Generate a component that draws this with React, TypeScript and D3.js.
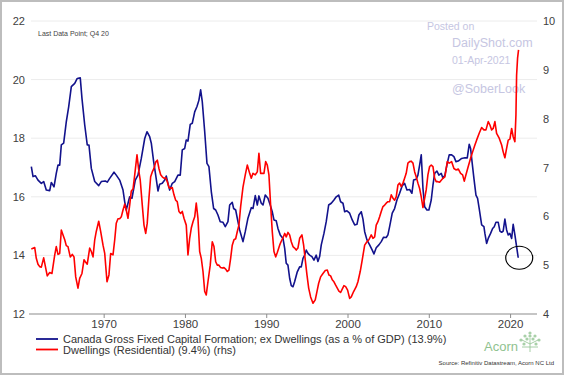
import React from "react";
import * as d3 from "d3";

// ---- Data ----
const capexSeries: [number, number][] = [
  [1961.04, 17.03], [1961.25, 16.69], [1961.53, 16.72], [1961.86, 16.57], [1962.27, 16.46], [1962.56, 16.52],
  [1962.88, 16.23], [1963.3, 16.21], [1963.5, 16.49], [1963.83, 16.34], [1964.11, 16.8], [1964.32, 17.08],
  [1964.53, 17.08], [1964.73, 17.77], [1965.02, 17.83], [1965.34, 18.56], [1965.64, 19.08], [1965.96, 19.76],
  [1966.38, 19.87], [1966.69, 20.04], [1967.06, 20.06], [1967.27, 19.36], [1967.61, 18.45], [1967.92, 17.77],
  [1968.13, 17.77], [1968.42, 16.97], [1968.84, 16.52], [1969.33, 16.38], [1969.65, 16.52], [1970.14, 16.54],
  [1970.39, 16.5], [1970.68, 16.63], [1971.21, 16.84], [1971.49, 16.74], [1971.91, 16.57], [1972.32, 16.23],
  [1972.53, 15.83], [1972.72, 15.55], [1973.14, 16.0], [1973.42, 15.95], [1973.83, 16.57], [1974.16, 16.74],
  [1974.57, 17.31], [1974.99, 17.99], [1975.27, 18.22], [1975.6, 18.05], [1975.8, 17.83], [1976.09, 17.2],
  [1976.34, 16.74], [1976.62, 16.2], [1976.83, 16.43], [1977.15, 16.46], [1977.45, 16.57], [1977.64, 16.71],
  [1977.85, 16.46], [1978.06, 16.23], [1978.38, 16.46], [1978.68, 16.52], [1979.08, 16.74], [1979.36, 16.74],
  [1979.61, 17.6], [1979.91, 17.65], [1980.1, 17.94], [1980.31, 17.9], [1980.59, 18.47], [1980.84, 18.51],
  [1981.14, 18.9], [1981.42, 19.08], [1981.66, 19.3], [1981.87, 19.65], [1982.07, 19.25], [1982.37, 18.22],
  [1982.65, 17.14], [1982.89, 17.03], [1983.18, 16.18], [1983.47, 15.6], [1983.72, 15.55], [1984.0, 15.38],
  [1984.28, 15.15], [1984.62, 15.13], [1984.9, 14.98], [1985.23, 15.15], [1985.44, 15.72], [1985.76, 15.81],
  [1985.93, 15.6], [1986.18, 15.55], [1986.46, 15.15], [1986.67, 14.87], [1987.08, 14.47], [1987.36, 14.81],
  [1987.69, 15.27], [1988.1, 15.63], [1988.31, 15.6], [1988.59, 16.04], [1988.84, 15.72], [1989.04, 16.03],
  [1989.33, 15.78], [1989.54, 15.72], [1989.82, 16.06], [1990.15, 15.95], [1990.43, 15.72], [1990.68, 15.49],
  [1990.89, 15.21], [1991.17, 15.18], [1991.38, 14.92], [1991.66, 14.7], [1992.0, 14.58], [1992.21, 14.24],
  [1992.4, 13.73], [1992.61, 13.67], [1992.82, 13.22], [1993.02, 12.97], [1993.23, 12.93], [1993.43, 13.1],
  [1993.76, 13.44], [1994.05, 13.61], [1994.25, 13.61], [1994.46, 13.9], [1994.67, 14.01], [1994.86, 14.18],
  [1995.07, 14.07], [1995.28, 14.01], [1995.56, 13.96], [1995.81, 13.84], [1996.09, 14.01], [1996.3, 13.79],
  [1996.51, 13.96], [1996.71, 14.36], [1997.04, 14.75], [1997.32, 15.15], [1997.62, 15.72], [1997.94, 15.78],
  [1998.27, 15.89], [1998.55, 16.0], [1998.85, 16.06], [1999.09, 15.83], [1999.38, 15.78], [1999.59, 15.49],
  [1999.87, 15.52], [2000.2, 15.44], [2000.52, 15.21], [2000.82, 15.04], [2001.1, 15.06], [2001.34, 15.38],
  [2001.63, 15.49], [2001.84, 15.24], [2002.05, 14.81], [2002.33, 14.53], [2002.66, 14.36], [2002.98, 14.18],
  [2003.19, 14.05], [2003.47, 14.26], [2003.8, 14.36], [2004.09, 14.47], [2004.38, 14.62], [2004.7, 14.61],
  [2004.91, 14.7], [2005.12, 14.98], [2005.44, 15.44], [2005.73, 15.6], [2006.02, 15.89], [2006.35, 16.12],
  [2006.67, 16.38], [2006.96, 16.46], [2007.25, 16.23], [2007.58, 16.25], [2007.86, 16.12], [2008.07, 16.57],
  [2008.39, 16.6], [2008.6, 16.74], [2008.81, 17.08], [2009.01, 17.43], [2009.22, 16.29], [2009.43, 15.66],
  [2009.71, 15.55], [2009.95, 15.55], [2010.24, 15.89], [2010.45, 16.4], [2010.66, 16.8], [2010.94, 16.88],
  [2011.18, 16.74], [2011.47, 16.8], [2011.68, 16.63], [2011.92, 16.74], [2012.21, 17.14], [2012.45, 17.43],
  [2012.75, 17.43], [2013.03, 17.37], [2013.28, 17.2], [2013.56, 17.22], [2013.98, 17.31], [2014.38, 17.33],
  [2014.67, 17.33], [2014.91, 17.79], [2015.08, 17.65], [2015.28, 17.14], [2015.49, 16.63], [2015.74, 16.06],
  [2015.94, 15.95], [2016.14, 15.6], [2016.44, 15.04], [2016.72, 14.98], [2016.84, 14.75], [2017.05, 14.41],
  [2017.25, 14.58], [2017.54, 14.75], [2017.79, 14.92], [2017.99, 14.98], [2018.2, 15.13], [2018.48, 15.13],
  [2018.69, 14.83], [2018.9, 14.79], [2019.09, 14.83], [2019.3, 15.24], [2019.51, 14.87], [2019.71, 14.7],
  [2019.92, 14.75], [2020.13, 14.58], [2020.32, 15.06], [2020.53, 14.7], [2020.74, 14.3], [2020.94, 13.92],
];

const dwellingsSeries: [number, number][] = [
  [1961.04, 5.33], [1961.46, 5.36], [1961.65, 5.14], [1961.86, 5.02], [1962.07, 4.97], [1962.27, 4.96],
  [1962.56, 5.15], [1962.81, 4.94], [1963.0, 4.78], [1963.3, 4.85], [1963.58, 4.83], [1963.92, 5.21],
  [1964.11, 5.38], [1964.32, 5.22], [1964.53, 5.24], [1964.73, 5.72], [1964.94, 5.62], [1965.15, 5.52],
  [1965.34, 5.4], [1965.55, 5.38], [1965.83, 5.17], [1966.08, 5.22], [1966.29, 5.17], [1966.5, 4.76],
  [1966.78, 4.53], [1966.99, 4.73], [1967.27, 4.83], [1967.52, 5.11], [1967.68, 5.07], [1967.92, 5.02],
  [1968.22, 5.35], [1968.42, 5.28], [1968.63, 5.17], [1968.84, 5.52], [1969.03, 5.69], [1969.33, 5.9],
  [1969.57, 5.69], [1969.86, 5.41], [1970.07, 5.24], [1970.35, 4.66], [1970.59, 4.8], [1970.8, 5.24],
  [1971.09, 5.21], [1971.3, 5.52], [1971.49, 5.86], [1971.7, 5.95], [1971.91, 5.95], [1972.11, 5.99],
  [1972.32, 6.13], [1972.53, 6.25], [1972.72, 6.13], [1972.93, 5.96], [1973.14, 6.23], [1973.34, 6.52],
  [1973.55, 6.56], [1973.76, 6.85], [1974.04, 7.26], [1974.28, 6.91], [1974.44, 6.74], [1974.69, 6.23],
  [1974.9, 5.82], [1975.11, 5.65], [1975.3, 5.86], [1975.51, 6.37], [1975.72, 6.81], [1975.92, 6.91],
  [1976.13, 6.98], [1976.34, 7.11], [1976.54, 7.15], [1976.74, 6.98], [1976.95, 6.85], [1977.15, 6.81],
  [1977.36, 6.78], [1977.57, 6.79], [1977.77, 6.71], [1977.97, 6.59], [1978.18, 6.57], [1978.38, 6.59],
  [1978.59, 6.44], [1978.8, 6.33], [1978.99, 6.3], [1979.2, 6.1], [1979.41, 6.06], [1979.61, 6.1],
  [1979.82, 5.96], [1980.1, 5.82], [1980.31, 5.21], [1980.52, 5.55], [1980.72, 5.76], [1980.93, 5.89],
  [1981.14, 5.99], [1981.33, 6.27], [1981.54, 5.96], [1981.75, 5.28], [1981.95, 5.14], [1982.16, 4.87],
  [1982.37, 4.46], [1982.56, 4.39], [1982.77, 4.66], [1983.05, 5.0], [1983.3, 5.48], [1983.51, 5.38],
  [1983.72, 5.07], [1983.92, 5.0], [1984.12, 5.0], [1984.33, 4.95], [1984.53, 4.94], [1984.74, 4.95],
  [1984.95, 4.92], [1985.15, 4.87], [1985.35, 4.9], [1985.56, 5.14], [1985.76, 5.41], [1985.97, 5.52],
  [1986.18, 5.54], [1986.38, 5.69], [1986.58, 5.82], [1986.79, 6.2], [1987.08, 6.6], [1987.36, 6.85],
  [1987.61, 7.05], [1987.9, 6.88], [1988.1, 6.78], [1988.31, 6.88], [1988.59, 6.85], [1988.84, 6.91],
  [1989.04, 7.29], [1989.25, 6.88], [1989.45, 6.88], [1989.66, 6.88], [1989.87, 7.12], [1990.07, 7.05],
  [1990.27, 6.85], [1990.48, 6.23], [1990.68, 5.69], [1990.89, 5.28], [1991.1, 5.17], [1991.3, 5.26],
  [1991.59, 5.41], [1991.79, 5.49], [1992.0, 5.56], [1992.21, 5.65], [1992.4, 5.58], [1992.61, 5.67],
  [1992.82, 5.62], [1993.02, 5.48], [1993.23, 5.38], [1993.43, 5.35], [1993.63, 5.31], [1993.84, 5.35],
  [1994.05, 5.55], [1994.33, 5.62], [1994.54, 5.41], [1994.74, 5.11], [1994.95, 4.8], [1995.16, 4.53],
  [1995.4, 4.35], [1995.69, 4.22], [1995.97, 4.29], [1996.18, 4.46], [1996.39, 4.63], [1996.63, 4.76],
  [1996.92, 4.83], [1997.2, 4.89], [1997.45, 4.9], [1997.65, 4.8], [1997.86, 4.78], [1998.06, 4.7],
  [1998.27, 4.66], [1998.48, 4.59], [1998.68, 4.53], [1998.88, 4.47], [1999.09, 4.44], [1999.29, 4.51],
  [1999.5, 4.58], [1999.71, 4.56], [1999.95, 4.49], [2000.2, 4.32], [2000.4, 4.35], [2000.69, 4.46],
  [2001.01, 4.56], [2001.22, 4.66], [2001.5, 4.87], [2001.75, 5.11], [2002.05, 5.41], [2002.33, 5.48],
  [2002.57, 5.52], [2002.86, 5.62], [2003.07, 5.55], [2003.28, 5.58], [2003.47, 5.82], [2003.68, 5.89],
  [2003.89, 5.99], [2004.09, 6.1], [2004.3, 6.2], [2004.51, 6.23], [2004.7, 6.27], [2004.91, 6.3],
  [2005.12, 6.3], [2005.32, 6.44], [2005.53, 6.37], [2005.73, 6.33], [2005.93, 6.4], [2006.14, 6.64],
  [2006.35, 6.68], [2006.55, 6.61], [2006.76, 6.68], [2006.96, 6.78], [2007.16, 6.88], [2007.37, 7.09],
  [2007.58, 7.12], [2007.78, 7.13], [2007.99, 7.09], [2008.2, 6.91], [2008.39, 6.81], [2008.6, 6.68],
  [2008.81, 6.57], [2009.01, 6.4], [2009.22, 6.18], [2009.43, 6.37], [2009.62, 6.54], [2009.83, 6.85],
  [2010.04, 7.02], [2010.24, 7.05], [2010.45, 7.02], [2010.66, 6.78], [2010.85, 6.71], [2011.06, 6.71],
  [2011.27, 6.7], [2011.47, 6.74], [2011.68, 6.78], [2011.92, 6.81], [2012.21, 7.12], [2012.45, 7.09],
  [2012.75, 7.12], [2013.03, 6.98], [2013.28, 6.95], [2013.56, 6.97], [2013.85, 6.88], [2014.1, 6.85],
  [2014.3, 6.72], [2014.51, 6.85], [2014.79, 7.02], [2015.08, 7.19], [2015.33, 7.32], [2015.61, 7.46],
  [2015.82, 7.56], [2016.14, 7.7], [2016.44, 7.82], [2016.72, 7.77], [2016.97, 7.77], [2017.25, 7.94],
  [2017.46, 7.87], [2017.67, 7.77], [2017.86, 7.8], [2018.07, 7.94], [2018.28, 7.7], [2018.6, 7.6],
  [2018.9, 7.46], [2019.09, 7.32], [2019.3, 7.2], [2019.51, 7.39], [2019.71, 7.56], [2019.92, 7.58],
  [2020.13, 7.8], [2020.32, 7.63], [2020.53, 7.53], [2020.66, 8.08], [2020.74, 8.89], [2020.86, 9.24],
  [2020.98, 9.41],
];

const leftTicks = [12, 14, 16, 18, 20, 22];
const rightTicks = [4, 5, 6, 7, 8, 9, 10];
const xTicks = [1970, 1980, 1990, 2000, 2010, 2020];
const legendLabels = [
  "Canada Gross Fixed Capital Formation; ex Dwellings (as a % of GDP) (13.9%)",
  "Dwellings (Residential) (9.4%) (rhs)",
];
const seriesColors = ["#12128c", "#ff0000"];
const watermark = ["Posted on", "DailyShot.com", "01-Apr-2021", "@SoberLook"];

const W = 564;
const H = 375;
const FONT = "'Liberation Sans', Arial, Helvetica, sans-serif";

export default function App() {
  const x = d3.scaleLinear().domain([1961, 2023.25]).range([31, 537]);
  const yL = d3.scaleLinear().domain([12, 22]).range([314, 21]);
  const yR = d3.scaleLinear().domain([4, 10]).range([314, 21]);

  const blueLine = d3
    .line<[number, number]>()
    .x((d) => x(d[0]))
    .y((d) => yL(d[1]));
  const redLine = d3
    .line<[number, number]>()
    .x((d) => x(d[0]))
    .y((d) => yR(d[1]));

  const last = capexSeries[capexSeries.length - 1];
  const cx = x(last[0]) + 1;
  const cy = yL(last[1]);

  React.useEffect(() => {
    document.body.style.margin = "0";
  }, []);

  return (
    <svg
      width={W}
      height={H}
      style={{ position: "absolute", left: 0, top: 0, display: "block" }}
      fontFamily={FONT}
    >
      <rect x={0} y={0} width={W} height={H} fill="#ffffff" />
      <rect x={1} y={1} width={W - 2} height={H - 2} fill="none" stroke="#bdbdbd" strokeWidth={2} />

      {/* grid */}
      {leftTicks.slice(1).map((t) => (
        <line key={t} x1={31} x2={537} y1={yL(t)} y2={yL(t)} stroke="#ececec" strokeWidth={1} />
      ))}

      {/* x axis */}
      <line x1={29} x2={537} y1={yL(12)} y2={yL(12)} stroke="#8c8c8c" strokeWidth={1.2} />
      {xTicks.map((t) => (
        <g key={t}>
          <line x1={x(t)} x2={x(t)} y1={yL(12)} y2={yL(12) + 4} stroke="#8c8c8c" />
          <text x={x(t)} y={328} textAnchor="middle" fontSize={11.5} fill="#404040">
            {t}
          </text>
        </g>
      ))}

      {/* left labels */}
      {leftTicks.map((t) => (
        <text key={t} x={25} y={yL(t) + 4} textAnchor="end" fontSize={11} fill="#404040">
          {t}
        </text>
      ))}
      {/* right labels */}
      {rightTicks.map((t) => (
        <text key={t} x={543} y={yR(t) + 4} textAnchor="start" fontSize={11} fill="#404040">
          {t}
        </text>
      ))}

      <text x={38} y={36} fontSize={7} fill="#444">
        Last Data Point; Q4 20
      </text>

      {/* watermark */}
      <text x={427} y={30} fontSize={10.5} fill="#c6c6e2">{watermark[0]}</text>
      <text x={452} y={47} fontSize={12.5} fill="#c6c6e2">{watermark[1]}</text>
      <text x={452} y={64} fontSize={10.5} fill="#c6c6e2">{watermark[2]}</text>
      <text x={452} y={93} fontSize={12.5} fill="#c6c6e2">{watermark[3]}</text>

      {/* series */}
      <path d={blueLine(capexSeries) ?? ""} fill="none" stroke={seriesColors[0]} strokeWidth={1.6} strokeLinejoin="round" />
      <path d={redLine(dwellingsSeries) ?? ""} fill="none" stroke={seriesColors[1]} strokeWidth={1.6} strokeLinejoin="round" />

      <ellipse cx={cx} cy={cy} rx={13.5} ry={11.5} fill="none" stroke="#000" strokeWidth={1.2} />

      {/* legend */}
      {legendLabels.map((l, i) => (
        <g key={i}>
          <line x1={36} x2={58} y1={339 + i * 10.5} y2={339 + i * 10.5} stroke={seriesColors[i]} strokeWidth={1.8} />
          <text x={63} y={343 + i * 10.5} fontSize={11} fill="#333">
            {l}
          </text>
        </g>
      ))}

      {/* Acorn logo */}
      <text x={484} y={351} fontSize={13} fill="#8fc28f">Acorn</text>
      <g stroke="#8fc28f" strokeWidth={0.8} fill="none">
        <line x1={530} x2={530} y1={352} y2={338} />
        <line x1={530} x2={522} y1={344} y2={340} />
        <line x1={530} x2={538} y1={344} y2={340} />
        <line x1={522} x2={538} y1={347} y2={347} />
      </g>
      <g fill="#a8d0a8">
        {[[525, 336], [530, 333], [535, 336], [521, 340], [539, 340], [527, 339], [533, 339], [524, 344], [536, 344], [530, 336]].map((p, i) => (
          <circle key={i} cx={p[0]} cy={p[1]} r={1.6} />
        ))}
      </g>

      <text x={554} y={365} textAnchor="end" fontSize={6} fill="#333">
        Source: Refinitiv Datastream, Acorn NC Ltd
      </text>
    </svg>
  );
}
